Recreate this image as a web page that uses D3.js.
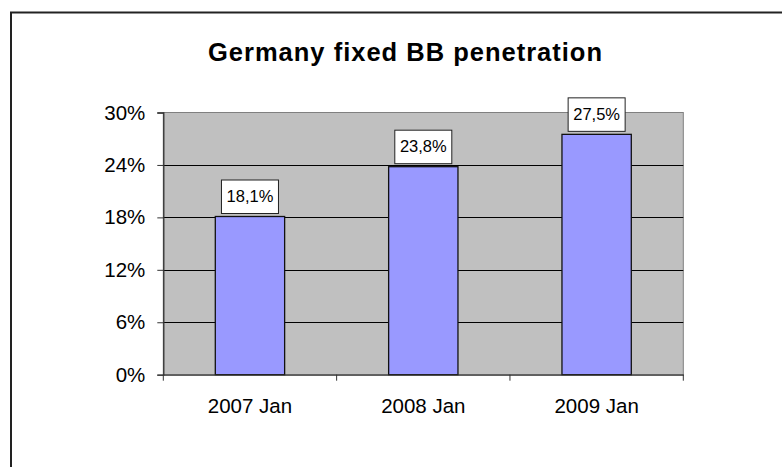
<!DOCTYPE html>
<html>
<head>
<meta charset="utf-8">
<script src="https://cdn.jsdelivr.net/npm/d3@7"></script>
<style>
  body { margin: 0; background: #fff; }
  text { font-family: "Liberation Sans", Arial, sans-serif; }
</style>
</head>
<body>
<svg id="chart" width="782" height="467"></svg>
<script>
const categories = ["2007 Jan", "2008 Jan", "2009 Jan"];
const values = [18.1, 23.8, 27.5];
const labels = ["18,1%", "23,8%", "27,5%"];
const yTicks = [0, 6, 12, 18, 24, 30];

const svg = d3.select("#chart");
const plotL = 163.3, plotR = 683.3, plotT = 112.5, plotB = 374.7;

// outer frame
svg.append("rect")
  .attr("x", 11).attr("y", 12.5)
  .attr("width", 800).attr("height", 500)
  .attr("fill", "#fff")
  .attr("stroke", "#222").attr("stroke-width", 2);

svg.append("text")
  .attr("x", 405.5).attr("y", 60.5)
  .attr("text-anchor", "middle")
  .attr("font-size", 25.5).attr("font-weight", "bold")
  .attr("letter-spacing", 1)
  .text("Germany fixed BB penetration");

const x = d3.scaleBand().domain(categories).range([plotL, plotR]).padding(0);
const y = d3.scaleLinear().domain([0, 30]).range([plotB, plotT]);

// plot area
svg.append("rect")
  .attr("x", plotL).attr("y", plotT)
  .attr("width", plotR - plotL).attr("height", plotB - plotT)
  .attr("fill", "#c0c0c0")
  .attr("stroke", "#808080").attr("stroke-width", 1);

// gridlines
svg.append("g").selectAll("line")
  .data(yTicks.filter(d => d > 0 && d < 30))
  .join("line")
  .attr("x1", plotL).attr("x2", plotR)
  .attr("y1", d => Math.round(y(d)) + 0.5).attr("y2", d => Math.round(y(d)) + 0.5)
  .attr("stroke", "#000").attr("stroke-width", 1);

// bars
const barW = x.bandwidth() * 0.4;
svg.append("g").selectAll("rect")
  .data(values)
  .join("rect")
  .attr("x", (d, i) => x(categories[i]) + (x.bandwidth() - barW) / 2)
  .attr("y", d => y(d))
  .attr("width", barW)
  .attr("height", d => plotB - y(d))
  .attr("fill", "#9999ff")
  .attr("stroke", "#111").attr("stroke-width", 1.3);

// y axis
const yAxis = svg.append("g")
  .attr("transform", `translate(${plotL},0)`)
  .call(d3.axisLeft(y).tickValues(yTicks).tickFormat(d => d + "%").tickSize(6).tickPadding(12));
yAxis.select(".domain").attr("stroke", "#333").attr("stroke-width", 1.3);
yAxis.selectAll(".tick line").attr("stroke", "#333");
yAxis.selectAll("text").attr("font-size", 20.5).attr("fill", "#000")
  .attr("font-family", "Liberation Sans, Arial, sans-serif");

// x axis
const xAxis = svg.append("g")
  .attr("transform", `translate(0,${plotB})`)
  .call(d3.axisBottom(x).tickSize(0).tickPadding(24));
xAxis.select(".domain").attr("stroke", "#333").attr("stroke-width", 1.3);
xAxis.selectAll("text").attr("font-size", 20.5).attr("fill", "#000")
  .attr("font-family", "Liberation Sans, Arial, sans-serif");
xAxis.append("g").selectAll("line")
  .data(categories.concat([null]))
  .join("line")
  .attr("x1", (d, i) => plotL + i * x.bandwidth())
  .attr("x2", (d, i) => plotL + i * x.bandwidth())
  .attr("y1", 0).attr("y2", 6)
  .attr("stroke", "#333");

// data labels
const lbl = svg.append("g").selectAll("g")
  .data(values)
  .join("g")
  .attr("transform", (d, i) => `translate(${x(categories[i]) + x.bandwidth() / 2},${y(d) - 3})`);
lbl.append("rect")
  .attr("x", -28.5).attr("y", -33.5)
  .attr("width", 57).attr("height", 33.5)
  .attr("fill", "#fff")
  .attr("stroke", "#222").attr("stroke-width", 1);
lbl.append("text")
  .attr("x", 0).attr("y", -11.5)
  .attr("text-anchor", "middle")
  .attr("font-size", 16.5)
  .text((d, i) => labels[i]);
</script>
</body>
</html>
